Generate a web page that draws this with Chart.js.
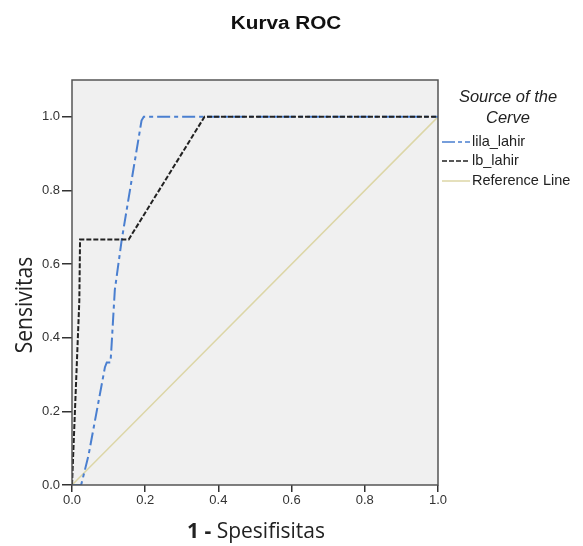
<!DOCTYPE html>
<html><head><meta charset="utf-8">
<script src="https://cdn.jsdelivr.net/npm/chart.js@4/dist/chart.umd.min.js"></script>
<style>html,body{margin:0;padding:0;background:#fff}#w{width:583px;height:546px}</style>
</head><body><div id="w"><canvas id="c" width="583" height="546"></canvas></div>
<script>
const lilaX = [0, 0.025, 0.045, 0.09, 0.095, 0.105, 0.107, 0.117, 0.136, 0.19, 0.196, 1.0];
const lilaY = [0, 0, 0.08, 0.32, 0.333, 0.333, 0.36, 0.53, 0.667, 0.99, 1.0, 1.0];
const lbX = [0, 0.02, 0.022, 0.155, 0.362, 1.0];
const lbY = [0, 0.5, 0.667, 0.667, 1.0, 1.0];
const refX = [0, 1];
const refY = [0, 1];
const tickVals = [0, 0.2, 0.4, 0.6, 0.8, 1.0];
const seriesNames = ['lila_lahir', 'lb_lahir', 'Reference Line'];
const colors = ['#4a7fd0', '#222222', '#dcd6a6'];
const dashes = [[13,4,4,4], [5,2], []];

const pts = (xs, ys) => xs.map((x, i) => ({x, y: ys[i]}));

const deco = {
  id: 'deco',
  beforeDraw(chart) {
    const {ctx, chartArea: a} = chart;
    ctx.save();
    ctx.fillStyle = '#f0f0f0';
    ctx.fillRect(a.left, a.top, a.right - a.left, a.bottom - a.top);
    ctx.restore();
  },
  afterDraw(chart) {
    const {ctx, chartArea: a} = chart;
    ctx.save();
    ctx.strokeStyle = '#555';
    ctx.lineWidth = 1.5;
    ctx.strokeRect(a.left, a.top, a.right - a.left, a.bottom - a.top);
    // title
    ctx.fillStyle = '#111';
    ctx.textAlign = 'center';
    ctx.textBaseline = 'middle';
    ctx.save();
    ctx.translate(286, 24);
    ctx.scale(1.15, 1);
    ctx.font = 'bold 18px "Liberation Sans", Arial, sans-serif';
    ctx.fillText('Kurva ROC', 0, 0);
    ctx.restore();
    // y title
    ctx.save();
    ctx.translate(25, 305);
    ctx.scale(1.15, 1);
    ctx.rotate(-Math.PI / 2);
    ctx.font = '21px "Open Sans", "DejaVu Sans", sans-serif';
    ctx.fillStyle = '#222';
    ctx.fillText('Sensivitas', 0, 0);
    ctx.restore();
    // x title
    ctx.textAlign = 'left';
    ctx.fillStyle = '#222';
    ctx.font = 'bold 21px "Open Sans", sans-serif';
    const p1 = '1 - ';
    const w1 = ctx.measureText(p1).width;
    ctx.font = '21px "Open Sans", sans-serif';
    const p2 = 'Spesifisitas';
    const w2 = ctx.measureText(p2).width;
    let sx = 256 - (w1 + w2) / 2;
    ctx.font = 'bold 21px "Open Sans", sans-serif';
    ctx.fillText(p1, sx, 532);
    ctx.font = '21px "Open Sans", sans-serif';
    ctx.fillText(p2, sx + w1, 532);
    // legend
    ctx.textAlign = 'center';
    ctx.font = 'italic 16.5px "Liberation Sans", Arial, sans-serif';
    ctx.fillStyle = '#222';
    ctx.fillText('Source of the', 508, 97);
    ctx.fillText('Cerve', 508, 118);
    ctx.textAlign = 'left';
    ctx.font = '14.5px "Liberation Sans", Arial, sans-serif';
    const ly = [142, 161, 181];
    for (let i = 0; i < 3; i++) {
      ctx.strokeStyle = colors[i];
      ctx.lineWidth = 1.5;
      ctx.setLineDash(i === 0 ? [13,3,4,3] : dashes[i]);
      ctx.beginPath();
      ctx.moveTo(442, ly[i]);
      ctx.lineTo(470, ly[i]);
      ctx.stroke();
      ctx.setLineDash([]);
      ctx.fillStyle = '#222';
      ctx.fillText(seriesNames[i], 472, ly[i]);
    }
    ctx.restore();
  }
};

new Chart(document.getElementById('c'), {
  type: 'scatter',
  data: {
    datasets: [
      {label: seriesNames[1], data: pts(lbX, lbY), showLine: true, borderColor: colors[1], borderWidth: 2, pointRadius: 0, borderDash: dashes[1]},
      {label: seriesNames[0], data: pts(lilaX, lilaY), showLine: true, borderColor: colors[0], borderWidth: 2, pointRadius: 0, borderDash: dashes[0]},
      {label: seriesNames[2], data: pts(refX, refY), showLine: true, borderColor: colors[2], borderWidth: 1.5, pointRadius: 0, borderDash: dashes[2]}
    ]
  },
  options: {
    responsive: false,
    animation: false,
    layout: {padding: {left: 0, top: 80, right: 145, bottom: 0}},
    plugins: {legend: {display: false}, tooltip: {enabled: false}, title: {display: false}},
    scales: {
      x: {
        type: 'linear', min: 0, max: 1,
        afterBuildTicks: s => { s.ticks = tickVals.map(v => ({value: v})); },
        afterFit: s => { s.height = 61; },
        grid: {drawOnChartArea: false, tickLength: 7, color: '#333', lineWidth: 1.5},
        border: {display: false},
        ticks: {callback: v => Number(v).toFixed(1), color: '#333', font: {size: 13, family: '"Liberation Sans", Arial, sans-serif'}, padding: 1, maxRotation: 0}
      },
      y: {
        type: 'linear', min: 0, max: 1.1,
        afterBuildTicks: s => { s.ticks = tickVals.map(v => ({value: v})); },
        afterFit: s => { s.width = 72; },
        grid: {drawOnChartArea: false, tickLength: 10, color: '#333', lineWidth: 1.5},
        border: {display: false},
        ticks: {callback: v => Number(v).toFixed(1), color: '#333', font: {size: 13, family: '"Liberation Sans", Arial, sans-serif'}, padding: 2}
      }
    }
  },
  plugins: [deco]
});
</script></body></html>
